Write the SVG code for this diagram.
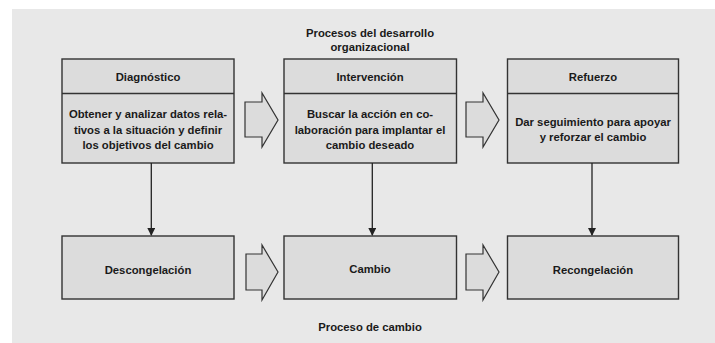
<svg xmlns="http://www.w3.org/2000/svg" width="715" height="343" viewBox="0 0 715 343">
<defs>
<style>
.box{fill:#dcdcdc;stroke:#333;stroke-width:1.4}
.blk{fill:#dcdcdc;stroke:#333;stroke-width:1.2}
.t{font-family:"Liberation Sans",Arial,sans-serif;font-weight:bold;font-size:11.3px;fill:#1a1a1a;text-anchor:middle}
.c{stroke:#222;stroke-width:1.3;fill:none}
</style>
<marker id="ah" markerWidth="8" markerHeight="8" refX="7" refY="4" orient="auto" markerUnits="userSpaceOnUse">
<path d="M0,0 L8,4 L0,8 z" fill="#222"/>
</marker>
</defs>
<rect x="0" y="0" width="715" height="343" fill="#fff"/>
<rect x="12" y="9" width="703" height="334" fill="#e8e8e8"/>
<text class="t" x="370" y="37">Procesos del desarrollo</text>
<text class="t" x="370" y="51">organizacional</text>
<text class="t" x="370" y="331">Proceso de cambio</text>
<g id="diagnostico">
<rect class="box" x="62" y="59" width="172" height="104"/>
<line class="box" x1="62" y1="93.5" x2="234" y2="93.5"/>
<text class="t" x="148" y="81">Diagnóstico</text>
<text class="t" x="148" y="118">Obtener y analizar datos rela-</text>
<text class="t" x="148" y="133.5">tivos a la situación y definir</text>
<text class="t" x="148" y="148.5">los objetivos del cambio</text>
</g>
<g id="intervencion">
<rect class="box" x="284" y="59" width="172.5" height="104"/>
<line class="box" x1="284" y1="93.5" x2="456.5" y2="93.5"/>
<text class="t" x="370" y="81">Intervención</text>
<text class="t" x="370" y="118">Buscar la acción en co-</text>
<text class="t" x="370" y="133.5">laboración para implantar el</text>
<text class="t" x="370" y="148.5">cambio deseado</text>
</g>
<g id="refuerzo">
<rect class="box" x="507.5" y="59" width="171" height="104"/>
<line class="box" x1="507.5" y1="93.5" x2="678.5" y2="93.5"/>
<text class="t" x="593" y="81">Refuerzo</text>
<text class="t" x="593" y="125.5">Dar seguimiento para apoyar</text>
<text class="t" x="593" y="140.5">y reforzar el cambio</text>
</g>
<g id="descongelacion">
<rect class="box" x="62" y="236" width="172" height="63"/>
<text class="t" x="148" y="274">Descongelación</text>
</g>
<g id="cambio">
<rect class="box" x="284" y="236" width="172.5" height="63"/>
<text class="t" x="370" y="273">Cambio</text>
</g>
<g id="recongelacion">
<rect class="box" x="507.5" y="236" width="171" height="63"/>
<text class="t" x="593" y="274">Recongelación</text>
</g>
<g id="connectors">
<line class="c" x1="151.3" y1="163" x2="151.3" y2="235" marker-end="url(#ah)"/>
<line class="c" x1="372.3" y1="163" x2="372.3" y2="235" marker-end="url(#ah)"/>
<line class="c" x1="592" y1="163" x2="592" y2="235" stroke="#555" marker-end="url(#ah)"/>
<path class="blk" d="M245,102 L262,102 L262,93 L278,120 L262,147 L262,137 L245,137 z"/>
<path class="blk" d="M466,102 L483,102 L483,93 L499,120 L483,147 L483,137 L466,137 z"/>
<path class="blk" d="M246,254 L262,254 L262,245 L278,272 L262,300 L262,290 L246,290 z"/>
<path class="blk" d="M466,254 L483,254 L483,245 L499,272 L483,300 L483,290 L466,290 z"/>
</g>
</svg>
